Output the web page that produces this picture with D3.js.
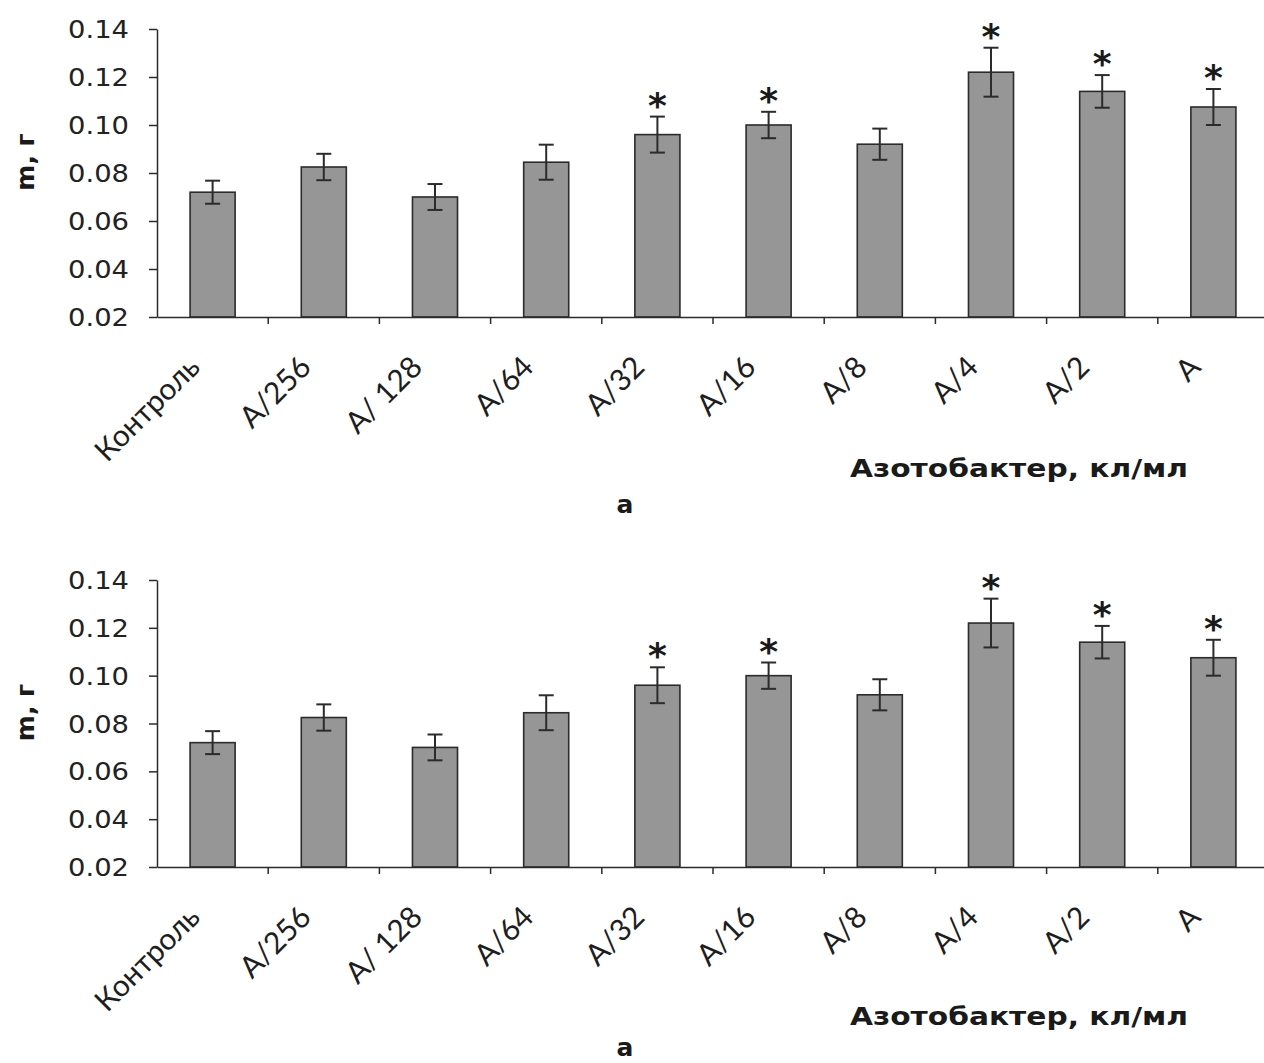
<!DOCTYPE html>
<html>
<head>
<meta charset="utf-8">
<script src="https://cdn.jsdelivr.net/npm/d3@7"></script>
<style>
  html, body { margin: 0; padding: 0; background: #fff; }
  svg { display: block; }
</style>
</head>
<body>
<svg id="chart" width="1264" height="1063"></svg>
<script>
// ---- data ----
const categories = ["Контроль", "A/256", "A/ 128", "A/64", "A/32", "A/16", "A/8", "A/4", "A/2", "A"];
const means = [0.072, 0.0825, 0.070, 0.0845, 0.096, 0.100, 0.092, 0.122, 0.114, 0.1075];
const errors = [0.0048, 0.0055, 0.0054, 0.0073, 0.0075, 0.0055, 0.0065, 0.0102, 0.0068, 0.0075];
const significant = [false, false, false, false, true, true, false, true, true, true];
const yTicks = [0.02, 0.04, 0.06, 0.08, 0.10, 0.12, 0.14];
const yTitle = "m, г";
const xTitle = "Азотобактер, кл/мл";
const panelLabel = "а";

const rows = categories.map((c, i) => ({ cat: c, mean: means[i], err: errors[i], sig: significant[i] }));

const svg = d3.select("#chart");
const ink = "#2b2b2b";

function drawPanel(top, bottom, offsetY, labelY) {
  const g = svg.append("g");
  const x = d3.scaleBand().domain(categories).range([157, 1269]).paddingInner(0.595).paddingOuter(0.2975);
  const xb = d3.scaleBand().domain(categories).range([157, 1269]).padding(0);
  const y = d3.scaleLinear().domain([0.02, 0.14]).range([bottom, top]);

  // bars
  g.selectAll("rect.bar").data(rows).join("rect")
    .attr("class", "bar")
    .attr("x", d => x(d.cat))
    .attr("width", x.bandwidth())
    .attr("y", d => y(d.mean))
    .attr("height", d => y(0.02) - y(d.mean))
    .attr("fill", "#969696")
    .attr("stroke", ink)
    .attr("stroke-width", 1.6);

  // error bars
  const cap = 7.5;
  const eb = g.selectAll("g.err").data(rows).join("g").attr("class", "err")
    .attr("stroke", ink).attr("stroke-width", 2);
  eb.append("line")
    .attr("x1", d => x(d.cat) + x.bandwidth() / 2).attr("x2", d => x(d.cat) + x.bandwidth() / 2)
    .attr("y1", d => y(d.mean + d.err)).attr("y2", d => y(d.mean - d.err));
  eb.append("line")
    .attr("x1", d => x(d.cat) + x.bandwidth() / 2 - cap).attr("x2", d => x(d.cat) + x.bandwidth() / 2 + cap)
    .attr("y1", d => y(d.mean + d.err)).attr("y2", d => y(d.mean + d.err));
  eb.append("line")
    .attr("x1", d => x(d.cat) + x.bandwidth() / 2 - cap).attr("x2", d => x(d.cat) + x.bandwidth() / 2 + cap)
    .attr("y1", d => y(d.mean - d.err)).attr("y2", d => y(d.mean - d.err));

  // significance stars
  g.selectAll("text.star").data(rows.filter(d => d.sig)).join("text")
    .attr("class", "star")
    .attr("x", d => x(d.cat) + x.bandwidth() / 2)
    .attr("y", d => y(d.mean + d.err) + 1)
    .attr("text-anchor", "middle")
    .attr("font-family", "DejaVu Sans")
    .attr("font-weight", "bold")
    .attr("font-size", 36)
    .attr("fill", "#1a1a1a")
    .text("*");

  // y axis
  const yAxis = d3.axisLeft(y).tickValues(yTicks).tickFormat(d3.format(".2f")).tickSize(8).tickSizeOuter(0);
  const ya = g.append("g").attr("transform", "translate(157,0)").call(yAxis);
  ya.select(".domain").attr("stroke", ink).attr("stroke-width", 1.5);
  ya.selectAll(".tick line").attr("stroke", ink).attr("stroke-width", 1.5);
  ya.selectAll(".tick text")
    .attr("x", -28)
    .attr("dy", "0.36em")
    .attr("font-family", "DejaVu Sans")
    .attr("font-size", 24)
    .attr("fill", "#222")
    .attr("textLength", 61)
    .attr("lengthAdjust", "spacingAndGlyphs");

  // x axis
  const xAxis = d3.axisBottom(xb).tickValues(categories.slice(1)).tickSize(7).tickSizeOuter(0).tickFormat("");
  const xa = g.append("g").attr("transform", `translate(0,${bottom})`).call(xAxis);
  xa.selectAll(".tick").attr("transform", d => `translate(${xb(d)},0)`);
  xa.select(".domain").attr("stroke", ink).attr("stroke-width", 1.5);
  xa.selectAll(".tick line").attr("stroke", ink).attr("stroke-width", 1.5);

  // rotated category labels
  g.selectAll("text.xl").data(categories).join("text")
    .attr("class", "xl")
    .attr("transform", d => `translate(${xb(d) + xb.bandwidth() / 2 - 11},${bottom + 52}) rotate(-45)`)
    .attr("text-anchor", "end")
    .attr("font-family", "Lato, 'Open Sans', sans-serif")
    .attr("font-size", 30)
    .attr("fill", "#1e1e1e")
    .text(d => d);

  // y title
  g.append("text")
    .attr("transform", `translate(34,${(top + bottom) / 2 - 11}) rotate(-90)`)
    .attr("text-anchor", "middle")
    .attr("font-family", "DejaVu Sans")
    .attr("font-weight", "bold")
    .attr("font-size", 25)
    .attr("fill", "#1a1a1a")
    .text(yTitle);

  // x title
  g.append("text")
    .attr("x", 850).attr("y", 477 + offsetY)
    .attr("font-family", "DejaVu Sans")
    .attr("font-weight", "bold")
    .attr("font-size", 25)
    .attr("fill", "#1a1a1a")
    .attr("textLength", 338)
    .attr("lengthAdjust", "spacingAndGlyphs")
    .text(xTitle);

  // panel label
  g.append("text")
    .attr("x", 625).attr("y", labelY)
    .attr("text-anchor", "middle")
    .attr("font-family", "DejaVu Sans")
    .attr("font-weight", "bold")
    .attr("font-size", 25)
    .attr("fill", "#1a1a1a")
    .text(panelLabel);
}

drawPanel(29, 317, 0, 513);
drawPanel(580, 867, 548, 1056);
</script>
</body>
</html>
